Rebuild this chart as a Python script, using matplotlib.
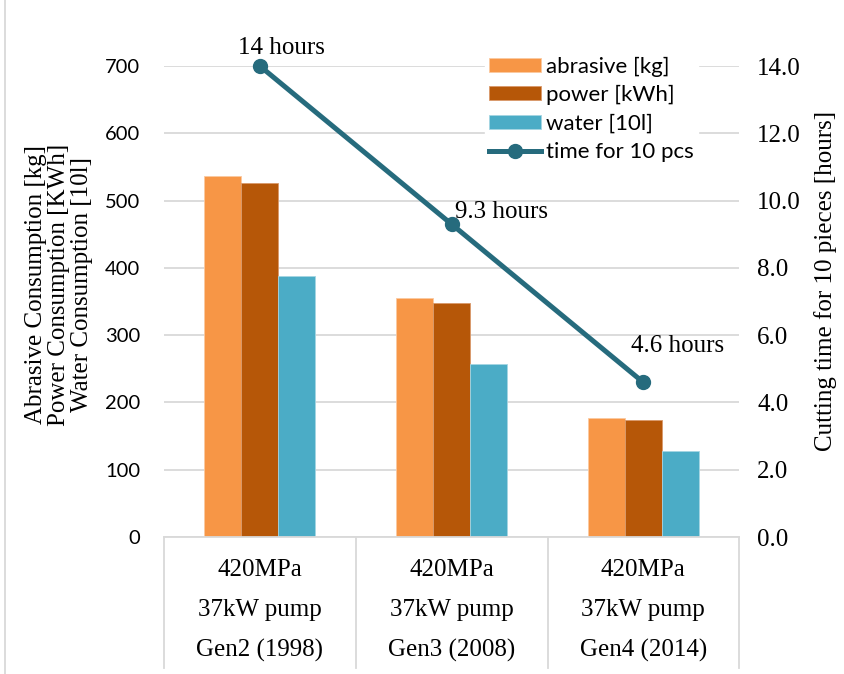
import matplotlib.pyplot as plt
import matplotlib.lines as mlines
import numpy as np

# data
categories = ['Gen2 (1998)', 'Gen3 (2008)', 'Gen4 (2014)']
pressure = ['420MPa', '420MPa', '420MPa']
pump = ['37kW pump', '37kW pump', '37kW pump']
abrasive = [536, 355, 177]
power = [526, 348, 174]
water = [388, 257, 128]
hours = [14.0, 9.3, 4.6]
hour_labels = ['14 hours', '9.3 hours', '4.6 hours']

SERIF = 'Liberation Serif'
SANS = 'Lato'
GRID = '#D9D9D9'

W, H = 845, 674
fig = plt.figure(figsize=(W / 100, H / 100), dpi=100)

def fx(px):
    return px / W

def fy(py):
    return 1 - py / H

ax = fig.add_axes([fx(164), fy(537), fx(739) - fx(164), fy(66) - fy(537)])
ax2 = ax.twinx()

x = np.arange(len(categories))
bw = 0.193
ax.bar(x - bw, abrasive, bw, color='#F79646', edgecolor='#FBC9A0', linewidth=0.6, label='abrasive [kg]', zorder=2)
ax.bar(x, power, bw, color='#B65708', edgecolor='#D9996A', linewidth=0.6, label='power [kWh]', zorder=2)
ax.bar(x + bw, water, bw, color='#4BACC6', edgecolor='#A5D5E2', linewidth=0.6, label='water [10l]', zorder=2)

ax.set_xlim(-0.5, 2.5)
ax.set_ylim(0, 700)
ax.set_yticks(range(0, 701, 100))
ax.set_axisbelow(True)
ax.grid(axis='y', color=GRID, linewidth=1.3)
for s in ax.spines.values():
    s.set_visible(False)
ax.spines['bottom'].set_visible(True)
ax.spines['bottom'].set_color(GRID)
ax.spines['bottom'].set_linewidth(1.3)
ax.tick_params(axis='y', length=0, pad=17, labelsize=14.5)
for t in ax.get_yticklabels():
    t.set_fontfamily(SANS)
ax.set_xticks([])

# category labels as a small table under the axis
axh = fy(66) - fy(537)
for row, labels in enumerate([pressure, pump, categories]):
    ty = (fy(570 + 40 * row) - fy(537)) / axh
    for i, lab in enumerate(labels):
        ax.text(i, ty, lab, transform=ax.get_xaxis_transform(),
                ha='center', va='center', fontfamily=SERIF, fontsize=18)
for px in [164, 356, 548, 739]:
    fig.add_artist(mlines.Line2D([fx(px), fx(px)], [fy(537), fy(668)], color=GRID, linewidth=1.3))
fig.add_artist(mlines.Line2D([fx(5), fx(5)], [0, 1], color=GRID, linewidth=1.3))

# cutting time line
ax2.plot(x, hours, color='#266B7D', linewidth=3.6, marker='o', markersize=10,
         label='time for 10 pcs', zorder=3, clip_on=False)
ax2.set_ylim(0, 14)
ax2.set_yticks(np.arange(0, 14.1, 2))
ax2.set_yticklabels([f'{v:.1f}' for v in np.arange(0, 14.1, 2)], fontfamily=SERIF, fontsize=18)
ax2.tick_params(axis='y', length=0, pad=13)
for s in ax2.spines.values():
    s.set_visible(False)

offsets = [(22, 18), (50, 12), (34, 36)]
for xi, h, lab, off in zip(x, hours, hour_labels, offsets):
    ax2.annotate(lab, (xi, h), xytext=off, textcoords='offset pixels',
                 ha='center', va='center', fontfamily=SERIF, fontsize=18)

# axis titles
fig.text(fx(59), fy(285), 'Abrasive Consumption [kg]\nPower Consumption [KWh]\nWater Consumption [10l]',
         rotation=90, ha='center', va='center', fontfamily=SERIF, fontsize=18, linespacing=1.05)
fig.text(fx(826), fy(281), 'Cutting time for 10 pieces [hours]', rotation=90,
         ha='center', va='center', fontfamily=SERIF, fontsize=18)

h1, l1 = ax.get_legend_handles_labels()
h2, l2 = ax2.get_legend_handles_labels()
leg = ax2.legend(h1 + h2, l1 + l2, loc='upper left', bbox_to_anchor=(fx(485), fy(52)),
                 bbox_transform=fig.transFigure, frameon=True, fancybox=False,
                 edgecolor='white', framealpha=1, prop={'family': SANS, 'size': 16},
                 handlelength=2.3, handleheight=0.6, labelspacing=0.38, handletextpad=0.25,
                 borderpad=0.2, borderaxespad=0)

fig.savefig('out.png', dpi=100)
